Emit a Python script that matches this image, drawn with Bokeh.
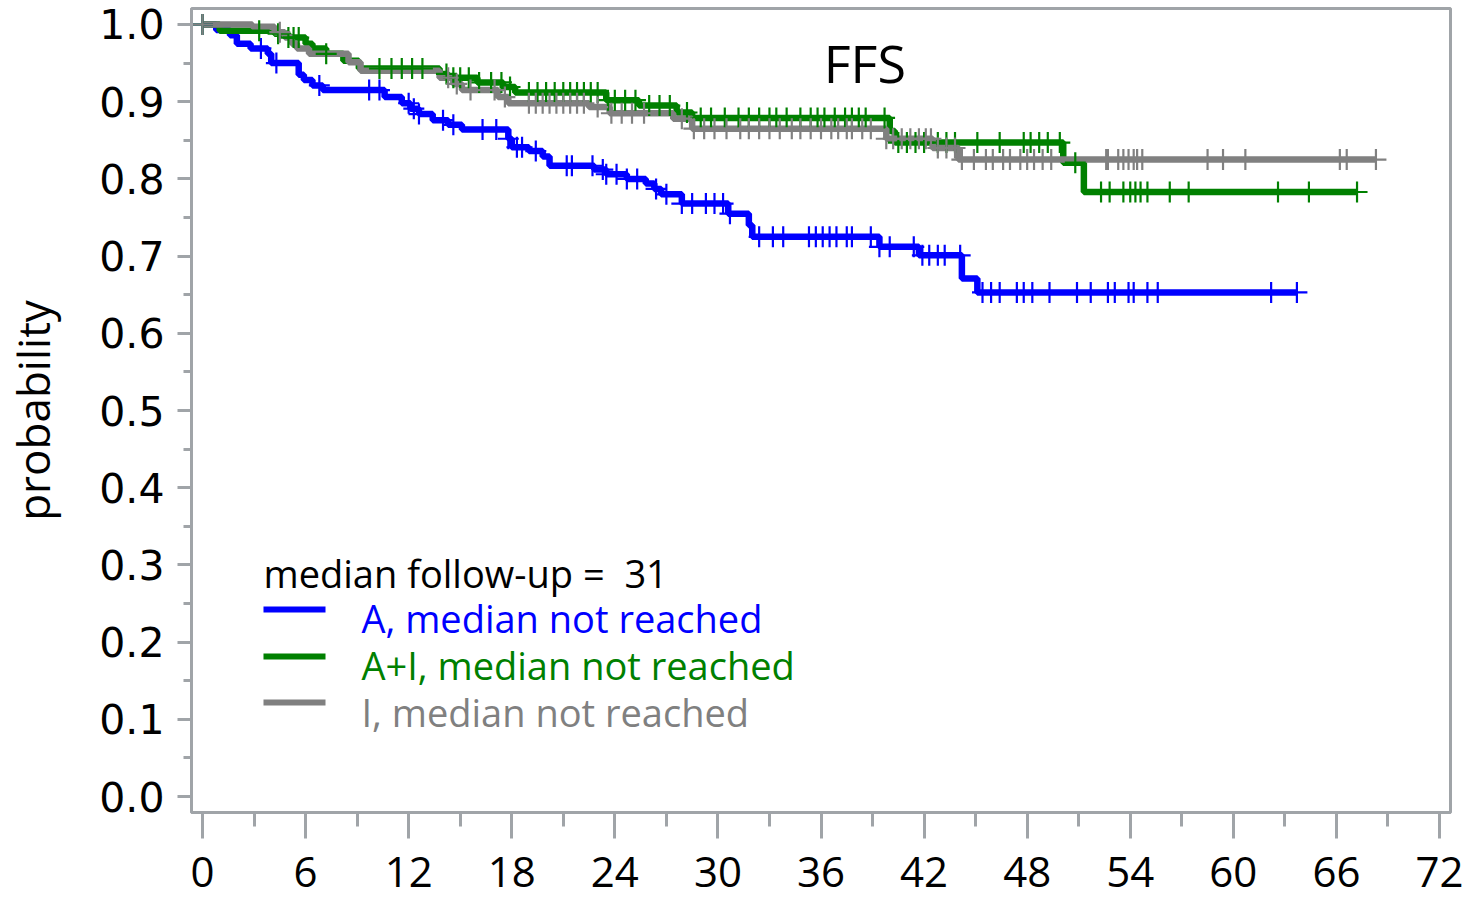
import numpy as np
from bokeh.plotting import figure
from bokeh.models import SingleIntervalTicker, Range1d, Label, CustomJSTickFormatter
from bokeh.embed import file_html
from bokeh.resources import INLINE

# ---------------- data ----------------
# Group A (blue)
a_times = [0, 0.8, 1.6, 2.0, 2.8, 3.8, 4.0, 5.6, 5.9, 6.4, 7.0, 10.6, 11.6, 12.1, 12.6,
           13.4, 14.3, 15.1, 17.8, 18.0, 19.0, 19.8, 20.2, 22.8, 23.5, 24.7, 25.8, 26.3,
           26.7, 27.9, 30.6, 31.8, 32.0, 39.4, 41.7, 44.2, 45.1]
a_surv = [1.0, 0.993, 0.986, 0.975, 0.969, 0.962, 0.950, 0.935, 0.928, 0.921, 0.915,
          0.906, 0.898, 0.891, 0.884, 0.876, 0.870, 0.864, 0.852, 0.841, 0.836, 0.829,
          0.817, 0.812, 0.806, 0.800, 0.794, 0.787, 0.780, 0.768, 0.755, 0.740, 0.725,
          0.712, 0.701, 0.671, 0.653]
a_end = 63.7
a_cens = [0, 3.4, 4.3, 6.8, 9.7, 10.3, 12.0, 12.3, 12.6, 14.0, 14.6, 16.3, 17.1, 17.8,
          18.3, 18.6, 19.4, 21.2, 21.5, 22.7, 23.3, 23.5, 24.1, 24.7, 25.3, 26.4, 27.0,
          27.9, 28.5, 29.3, 29.8, 30.3, 30.7, 32.4, 33.2, 33.8, 35.3, 35.7, 36.1, 36.5,
          36.9, 37.5, 37.8, 38.9, 39.4, 40.0, 41.4, 41.9, 42.3, 42.8, 43.2, 44.1, 45.4,
          45.9, 46.4, 47.4, 47.8, 48.3, 49.3, 50.9, 51.7, 52.7, 53.1, 53.9, 54.2, 55.0,
          55.6, 62.2, 63.7]

# Group A+I (green)
ai_times = [0, 1.0, 4.2, 5.0, 6.0, 6.4, 7.2, 8.2, 9.1, 13.8, 14.3, 16.0, 17.5, 18.2,
            23.5, 25.4, 27.6, 28.5, 40.0, 40.3, 50.1, 51.3]
ai_surv = [1.0, 0.992, 0.988, 0.983, 0.975, 0.969, 0.962, 0.953, 0.943, 0.936, 0.931,
           0.925, 0.919, 0.912, 0.902, 0.895, 0.886, 0.879, 0.862, 0.847, 0.821, 0.783]
ai_end = 67.2
ai_cens = [0, 3.3, 4.4, 5.0, 5.3, 5.6, 7.2, 10.3, 11.0, 11.6, 12.2, 12.8, 14.2, 14.6,
           15.0, 15.5, 16.1, 16.8, 17.4, 17.9, 19.0, 19.5, 20.0, 20.5, 21.0, 21.4, 21.8,
           22.2, 22.6, 23.0, 23.6, 24.0, 24.6, 25.2, 26.0, 26.6, 27.2, 28.2, 29.0, 29.6,
           30.4, 31.2, 31.8, 32.4, 33.0, 33.4, 34.0, 34.8, 35.4, 35.8, 36.2, 36.8, 37.4,
           37.8, 38.2, 38.6, 39.7, 40.5, 41.0, 41.5, 42.0, 42.8, 43.3, 43.8, 45.1, 46.4,
           47.8, 48.2, 48.7, 49.2, 49.9, 50.8, 52.3, 52.8, 53.6, 54.0, 54.3, 54.6, 55.0,
           56.3, 57.4, 62.6, 64.4, 67.2]

# Group I (gray)
i_times = [0, 2.9, 4.2, 4.8, 5.2, 5.5, 6.2, 8.5, 9.2, 13.8, 14.6, 15.1, 17.2, 17.8,
           22.5, 23.7, 27.4, 28.5, 39.8, 42.5, 44.0]
i_surv = [1.0, 0.997, 0.990, 0.983, 0.975, 0.969, 0.962, 0.951, 0.940, 0.931, 0.923,
          0.915, 0.906, 0.898, 0.893, 0.885, 0.878, 0.865, 0.852, 0.840, 0.825]
i_end = 68.3
i_cens = [0, 4.5, 14.3, 14.8, 15.6, 17.0, 17.6, 19.0, 19.4, 19.8, 20.2, 20.6, 21.0,
          21.4, 21.8, 22.2, 23.0, 23.8, 24.4, 25.0, 25.7, 27.9, 28.6, 29.2, 29.8, 30.5,
          31.3, 31.8, 32.4, 33.0, 33.6, 34.3, 34.8, 35.4, 36.0, 36.6, 37.0, 37.5, 37.8,
          38.4, 38.9, 39.8, 40.2, 40.7, 41.2, 41.7, 42.1, 42.4, 42.8, 43.3, 43.8, 44.2,
          44.9, 45.6, 46.0, 46.6, 47.0, 47.6, 48.0, 48.4, 48.9, 49.4, 52.6, 52.7, 53.3,
          53.6, 53.9, 54.2, 54.4, 54.7, 58.5, 59.4, 60.7, 66.2, 66.6, 68.3]

labels = ["A, median not reached", "A+I, median not reached", "I, median not reached"]
colors = ["#0000ff", "#008000", "#808080"]
title_text = "FFS"
legend_title = "median follow-up = \u00a031"
x_ticks_interval = 6
y_ticks_interval = 0.1

FONT = "Open Sans"
YFONT = "DejaVu Sans"
AXIS_COL = "#a0a4a8"

p = figure(frame_width=1259, frame_height=804, min_border_left=185, min_border_top=8,
           min_border_right=22, min_border_bottom=86, output_backend="svg",
           toolbar_location=None, x_range=Range1d(-0.64, 72.64),
           y_range=Range1d(-0.0207, 1.0207))
p.background_fill_color = "white"
p.border_fill_color = "white"
p.outline_line_color = AXIS_COL
p.outline_line_width = 3
p.xgrid.visible = False
p.ygrid.visible = False

p.xaxis.ticker = SingleIntervalTicker(interval=x_ticks_interval, num_minor_ticks=2)
p.yaxis.ticker = SingleIntervalTicker(interval=y_ticks_interval, num_minor_ticks=2)
p.yaxis.formatter = CustomJSTickFormatter(code="return tick.toFixed(1);")
p.xaxis.formatter = CustomJSTickFormatter(code="return tick.toFixed(0);")

for ax in (p.xaxis, p.yaxis):
    ax.axis_line_color = AXIS_COL
    ax.axis_line_width = 3
    ax.major_tick_line_color = AXIS_COL
    ax.minor_tick_line_color = AXIS_COL
    ax.major_tick_line_width = 3
    ax.minor_tick_line_width = 3
    ax.major_tick_in = 0
    ax.minor_tick_in = 0
    ax.major_label_text_color = "black"

p.xaxis.major_label_text_font = FONT
p.xaxis.major_label_text_font_size = "42px"
p.yaxis.major_label_text_font = YFONT
p.yaxis.major_label_text_font_size = "41px"
p.xaxis.major_tick_out = 26
p.xaxis.minor_tick_out = 14
p.xaxis.major_label_standoff = 18
p.yaxis.major_tick_out = 14
p.yaxis.minor_tick_out = 8
p.yaxis.major_label_standoff = 13
p.yaxis.axis_label = "probability"
p.yaxis.axis_label_text_font = FONT
p.yaxis.axis_label_text_font_size = "44px"
p.yaxis.axis_label_text_font_style = "normal"
p.yaxis.axis_label_text_color = "black"
p.yaxis.axis_label_standoff = 33


def step_value(times, surv, t):
    idx = np.searchsorted(np.asarray(times), np.asarray(t), side="right") - 1
    return np.asarray(surv)[idx]


groups = [(a_times, a_surv, a_end, a_cens), (ai_times, ai_surv, ai_end, ai_cens),
          (i_times, i_surv, i_end, i_cens)]

for (times, surv, end, cens), col in zip(groups, colors):
    xs = list(times) + [end]
    ys = list(surv) + [surv[-1]]
    p.step(xs, ys, mode="after", line_color=col, line_width=6.5)
for (times, surv, end, cens), col in zip(groups, colors):
    cy = step_value(times, surv, cens)
    p.scatter(cens, cy, marker="cross", size=21, line_color=col, line_width=2.2)

# title inside plot
p.add_layout(Label(x=38.55, y=0.9505, text=title_text, text_font=FONT,
                   text_font_size="52px", text_align="center", text_baseline="middle",
                   text_color="black"))

# legend block
p.add_layout(Label(x=3.55, y=0.290, text=legend_title, text_font=FONT,
                   text_font_size="38px", text_align="left", text_baseline="middle",
                   text_color="black"))
leg_line_y = [0.2423, 0.1814, 0.1218]
leg_text_y = [0.2307, 0.171, 0.110]
for lbl, col, ly, ty in zip(labels, colors, leg_line_y, leg_text_y):
    p.segment(x0=[3.55], y0=[ly], x1=[7.16], y1=[ly], line_color=col, line_width=6)
    p.add_layout(Label(x=9.25, y=ty, text=lbl, text_font=FONT, text_font_size="38px",
                       text_align="left", text_baseline="middle", text_color=col))

open("out.html", "w").write(file_html(p, INLINE))
